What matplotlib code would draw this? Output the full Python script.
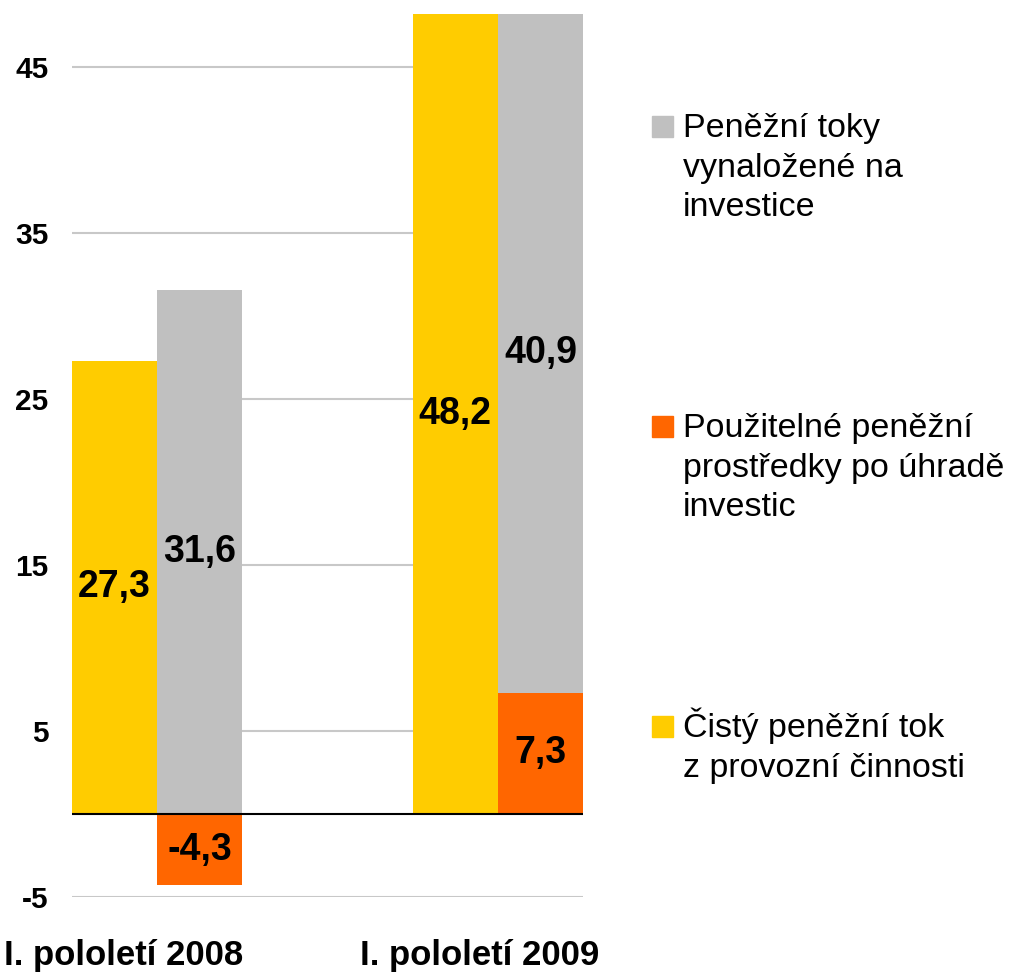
import numpy as np
import matplotlib.pyplot as plt
from matplotlib.patches import Rectangle

plt.rcParams['font.family'] = ['Liberation Sans', 'DejaVu Sans']

# half-year cash flow figures (mld. Kč)
categories = ["I. pololetí 2008", "I. pololetí 2009"]
provozni = [27.3, 48.2]      # net operating cash flow
investice = [31.6, 40.9]     # cash spent on investments
volne = [-4.3, 7.3]          # free cash after investments

yticks = [-5, 5, 15, 25, 35, 45]

c_yellow = '#FFCC00'
c_gray = '#C0C0C0'
c_orange = '#FF6600'

legend_items = [
    (c_gray, "Peněžní toky\nvynaložené na\ninvestice"),
    (c_orange, "Použitelné peněžní\nprostředky po úhradě\ninvestic"),
    (c_yellow, "Čistý peněžní tok\nz provozní činnosti"),
]


def fmt(v):
    return f"{v:.1f}".replace(".", ",")


fig = plt.figure(figsize=(10.15, 9.72), dpi=100)
ax = fig.add_axes([72 / 1015, 1 - 897 / 972, 511 / 1015, 883 / 972])

x = np.arange(len(categories))
w = 0.25

# left bar: operating flow, right bar: free cash with investments stacked on it
ax.bar(x - w / 2, provozni, width=w, color=c_yellow, zorder=2)
ax.bar(x + w / 2, volne, width=w, color=c_orange, zorder=2)
gray_bottom = [max(v, 0) for v in volne]
ax.bar(x + w / 2, investice, width=w, bottom=gray_bottom, color=c_gray, zorder=2)

lab = dict(ha='center', va='center', fontsize=27, fontweight='bold', zorder=4)
for i in range(len(categories)):
    ax.text(x[i] - w / 2, provozni[i] / 2, fmt(provozni[i]), **lab)
    ax.text(x[i] + w / 2, volne[i] / 2, fmt(volne[i]), **lab)
    ax.text(x[i] + w / 2, gray_bottom[i] + investice[i] / 2, fmt(investice[i]), **lab)

ax.set_xlim(-0.25, 1.25)
ax.set_ylim(-5, 48.2)
ax.set_yticks(yticks)
ax.set_yticklabels([str(t) for t in yticks], fontsize=21.5, fontweight='bold')
ax.tick_params(axis='y', length=0, pad=17)
ax.set_xticks([])
ax.grid(axis='y', color='#c8c8c8', linewidth=1.5, zorder=0)
ax.axhline(0, color='black', linewidth=1.5, zorder=3)
for s in ax.spines.values():
    s.set_visible(False)

# category captions sit a little left of the group centres
cat_x = [-0.097, 0.946]
for cx, name in zip(cat_x, categories):
    ax.text(cx, -0.077, name, transform=ax.get_xaxis_transform(),
            ha='center', va='baseline', fontsize=25, fontweight='bold',
            clip_on=False)

# legend drawn by hand: square next to the first line of each label
base_px = [137, 437, 737]
line_gap = 39.5
for (col, text), b in zip(legend_items, base_px):
    fig.patches.append(Rectangle((652 / 1015, 1 - b / 972), 21 / 1015, 21 / 972,
                                 transform=fig.transFigure, color=col))
    for k, line in enumerate(text.split("\n")):
        fig.text(683 / 1015, 1 - (b + k * line_gap) / 972, line,
                 ha='left', va='baseline', fontsize=24.5)

fig.savefig("out.png", dpi=100, facecolor='white')
